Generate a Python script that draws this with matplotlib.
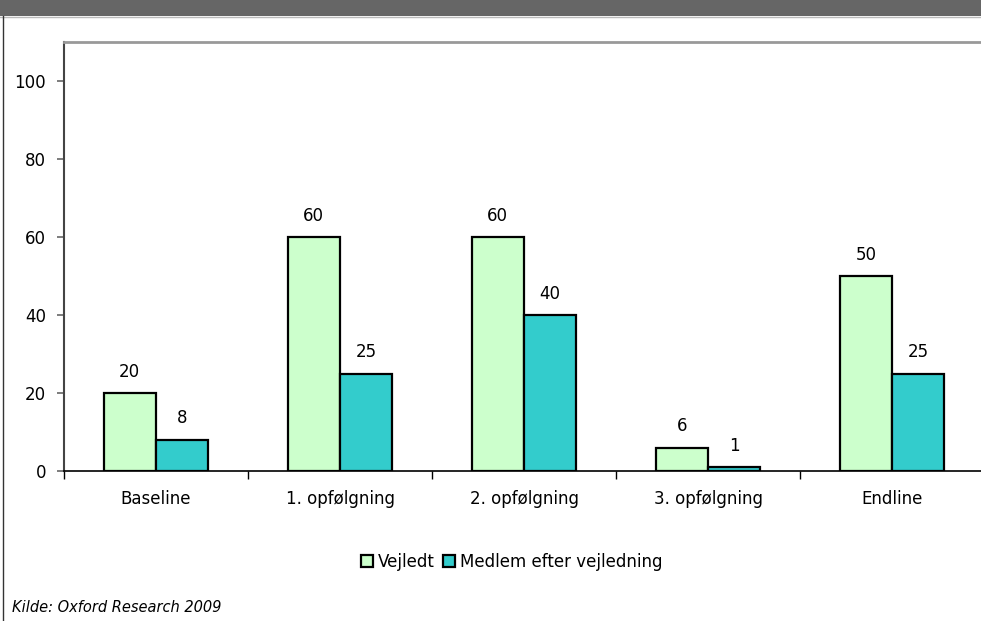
"""Vejledt vs. medlem efter vejledning, grouped bars."""

import matplotlib.pyplot as plt
import numpy as np
from matplotlib.lines import Line2D
from matplotlib.patches import Rectangle

CATEGORIES = ['Baseline', '1. opfølgning', '2. opfølgning', '3. opfølgning', 'Endline']
VEJLEDT = [20, 60, 60, 6, 50]
MEDLEM = [8, 25, 40, 1, 25]
SERIES_NAMES = ['Vejledt', 'Medlem efter vejledning']
Y_TICKS = [0, 20, 40, 60, 80, 100]
SOURCE = 'Kilde: Oxford Research 2009'

COLORS = ['#CCFFCC', '#33CCCC']
FIGSIZE = (9.81, 6.21)
DPI = 100
BAR_W = 0.285
FONT = 12


def main():
    plt.rcParams['font.family'] = ['DejaVu Sans']
    fig = plt.figure(figsize=FIGSIZE, dpi=DPI)

    # grey title band at the top and left frame line
    fig.patches.append(Rectangle((0, 1 - 16 / 621), 1, 16 / 621, transform=fig.transFigure,
                                 facecolor='#666666', edgecolor='none', zorder=0))
    fig.add_artist(Line2D([0, 1], [1 - 16.5 / 621] * 2, transform=fig.transFigure,
                          color='#bbbbbb', lw=1))
    fig.add_artist(Line2D([2.5 / 981] * 2, [0, 1 - 16 / 621], transform=fig.transFigure,
                          color='#333333', lw=1))

    ax = fig.add_axes([64 / 981, 150 / 621, 920 / 981, 429 / 621])
    x = np.arange(len(CATEGORIES))
    ax.bar(x - BAR_W / 2, VEJLEDT, BAR_W, color=COLORS[0], edgecolor='black', lw=1.6,
           label=SERIES_NAMES[0], zorder=3)
    ax.bar(x + BAR_W / 2, MEDLEM, BAR_W, color=COLORS[1], edgecolor='black', lw=1.6,
           label=SERIES_NAMES[1], zorder=3)

    for xi, v in zip(x - BAR_W / 2, VEJLEDT):
        ax.text(xi, v + 3.2, str(v), ha='center', va='bottom', fontsize=FONT)
    for xi, v in zip(x + BAR_W / 2, MEDLEM):
        ax.text(xi, v + 3.2, str(v), ha='center', va='bottom', fontsize=FONT)

    ax.set_xlim(-0.5, len(CATEGORIES) - 0.5)
    ax.set_ylim(0, 110)
    ax.set_yticks(Y_TICKS)
    ax.set_xticks(np.arange(len(CATEGORIES) + 1) - 0.5)
    ax.set_xticklabels([])
    ax.set_xticks(x, minor=True)
    ax.set_xticklabels(CATEGORIES, minor=True, fontsize=FONT)
    ax.tick_params(axis='x', which='major', direction='out', length=6, width=1)
    ax.tick_params(axis='x', which='minor', length=0, pad=14)
    ax.tick_params(axis='y', direction='out', length=5, width=1.2, color='#666666',
                   labelsize=FONT, pad=8)

    ax.spines['left'].set_color('#444444')
    ax.spines['left'].set_linewidth(1.5)
    ax.spines['bottom'].set_color('black')
    ax.spines['bottom'].set_linewidth(1.2)
    ax.spines['top'].set_color('#999999')
    ax.spines['top'].set_linewidth(2)
    ax.spines['right'].set_visible(False)

    fig.legend(loc='center', bbox_to_anchor=(512 / 981, 1 - 562 / 621), ncol=2,
               frameon=False, fontsize=FONT, handlelength=0.7, handleheight=0.7,
               handletextpad=0.3, columnspacing=0.5)
    fig.text(12 / 981, 1 - 607 / 621, SOURCE, style='italic', fontsize=10.5, va='center')

    fig.savefig('out.png', dpi=DPI)
    plt.close(fig)


if __name__ == '__main__':
    main()
